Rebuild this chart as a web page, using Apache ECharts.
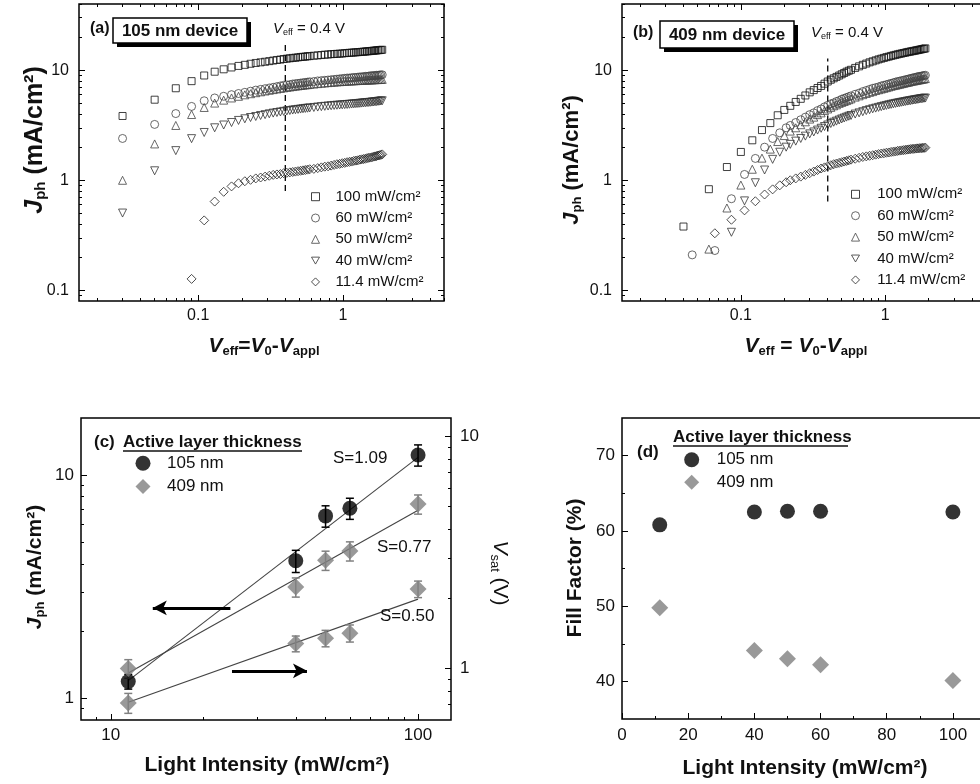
<!DOCTYPE html>
<html>
<head>
<meta charset="utf-8">
<script src="https://cdn.jsdelivr.net/npm/echarts@6/dist/echarts.min.js"></script>
<style>
html, body { margin: 0; padding: 0; background: #fff; }
#main { width: 980px; height: 784px; }
</style>
</head>
<body>
<div id="main"></div>
<script>
// ---- data: panel (a) 105 nm device, Jph vs Veff ----
const seriesNames = ['100 mW/cm²', '60 mW/cm²', '50 mW/cm²', '40 mW/cm²', '11.4 mW/cm²'];
const xA = [0.03,0.05,0.07,0.09,0.11,0.13,0.15,0.17,0.19,0.21,0.23,0.25,0.27,0.29,0.31,0.33,0.35,0.37,0.39,0.41,0.43,0.45,0.47,0.49,0.51,0.53,0.55,0.57,0.59,
  0.63,0.67,0.71,0.75,0.79,0.83,0.87,0.91,0.95,0.99,1.03,1.07,1.11,1.15,1.19,1.23,1.27,1.31,1.35,1.39,1.43,1.47,1.51,1.55,1.59,1.63,1.67,1.71,1.75,1.79,1.83,1.87];
const yA100 = [3.84,5.4,6.86,7.96,8.96,9.7,10.2,10.6,10.95,11.2,11.45,11.65,11.8,11.95,12.1,12.25,12.4,12.5,12.65,12.75,12.85,12.95,13.0,13.1,13.2,13.25,13.3,13.4,13.45,
  13.55,13.65,13.75,13.85,13.9,14.0,14.05,14.1,14.15,14.2,14.3,14.35,14.4,14.45,14.5,14.55,14.6,14.65,14.7,14.75,14.8,14.85,14.9,14.95,15.0,15.05,15.1,15.15,15.2,15.25,15.3,15.35];
const yA60 = [2.40,3.22,4.04,4.69,5.28,5.6,5.8,6.0,6.15,6.3,6.45,6.6,6.7,6.8,6.9,7.0,7.1,7.2,7.3,7.35,7.4,7.5,7.55,7.6,7.65,7.7,7.75,7.8,7.85,
  7.9,8.0,8.05,8.1,8.15,8.2,8.25,8.3,8.35,8.4,8.45,8.5,8.5,8.55,8.6,8.6,8.65,8.7,8.7,8.75,8.8,8.8,8.85,8.9,8.9,8.95,8.95,9.0,9.0,9.05,9.05,9.1];
const yA50 = [1.0,2.14,3.15,3.96,4.59,5.03,5.35,5.6,5.8,5.98,6.12,6.25,6.37,6.48,6.58,6.67,6.76,6.84,6.92,6.99,7.05,7.11,7.17,7.22,7.27,7.32,7.36,7.4,7.44,
  7.5,7.56,7.62,7.67,7.72,7.76,7.8,7.84,7.87,7.9,7.93,7.96,7.98,8.0,8.02,8.04,8.06,8.08,8.1,8.11,8.13,8.14,8.16,8.17,8.18,8.2,8.21,8.22,8.23,8.24,8.25,8.26];
const yA40 = [0.504,1.22,1.86,2.39,2.72,3.0,3.18,3.35,3.5,3.62,3.72,3.8,3.88,3.95,4.02,4.08,4.13,4.18,4.23,4.27,4.31,4.35,4.38,4.41,4.44,4.47,4.5,4.52,4.55,
  4.59,4.63,4.67,4.7,4.73,4.76,4.79,4.81,4.83,4.85,4.87,4.89,4.91,4.93,4.95,4.97,4.99,5.01,5.03,5.05,5.07,5.09,5.1,5.12,5.14,5.16,5.18,5.2,5.22,5.24,5.26,5.28];
const yA11 = [null,null,null,0.127,0.432,0.641,0.786,0.88,0.94,0.98,1.01,1.04,1.06,1.08,1.1,1.12,1.13,1.14,1.16,1.17,1.18,1.19,1.2,1.21,1.22,1.23,1.24,1.25,1.26,
  1.27,1.29,1.31,1.33,1.34,1.36,1.38,1.4,1.41,1.43,1.44,1.46,1.47,1.48,1.5,1.51,1.52,1.54,1.55,1.56,1.57,1.59,1.6,1.61,1.62,1.64,1.65,1.66,1.68,1.69,1.7,1.72];

// ---- data: panel (b) 409 nm device ----
const xTailB = [0.22,0.24,0.26,0.28,0.30,0.32,0.34,0.36,0.38,0.40,0.42,0.44,0.46,0.48,0.50,0.52,0.54,0.56,0.58,
  0.62,0.66,0.70,0.74,0.78,0.82,0.86,0.90,0.94,0.98,1.02,1.06,1.10,1.14,1.18,1.22,1.26,1.30,1.34,1.38,1.42,1.46,1.50,1.54,1.58,1.62,1.66,1.70,1.74,1.78,1.82,1.86,1.90];
const xB100 = [0.04,0.06,0.08,0.10,0.12,0.14,0.16,0.18,0.20];
const yB100 = [0.38,0.83,1.32,1.81,2.31,2.86,3.31,3.9,4.36];
const yB100tail = [4.75,5.15,5.5,5.9,6.3,6.6,6.9,7.2,7.55,7.9,8.2,8.45,8.7,8.95,9.2,9.45,9.7,9.9,10.1,
  10.5,10.85,11.2,11.5,11.8,12.05,12.3,12.55,12.75,12.95,13.15,13.3,13.5,13.65,13.8,13.95,14.1,14.2,14.35,14.45,14.6,14.7,14.8,14.9,15.0,15.1,15.2,15.3,15.4,15.5,15.6,15.7,15.8];
const xB60 = [0.046,0.066,0.086,0.106,0.126,0.146,0.166,0.186,0.206];
const yB60 = [0.21,0.23,0.68,1.13,1.58,2.0,2.4,2.7,3.0];
const yB60tail = [3.15,3.35,3.55,3.75,3.95,4.1,4.3,4.45,4.65,4.8,4.95,5.05,5.2,5.3,5.45,5.55,5.65,5.75,5.85,
  6.05,6.2,6.4,6.55,6.7,6.85,6.95,7.05,7.2,7.3,7.4,7.5,7.6,7.7,7.8,7.9,7.95,8.05,8.1,8.2,8.25,8.35,8.4,8.5,8.55,8.6,8.7,8.75,8.8,8.85,8.9,8.95,9.0];
const xB50 = [0.06,0.08,0.10,0.12,0.14,0.16,0.18,0.20];
const yB50 = [0.237,0.56,0.905,1.26,1.59,1.92,2.25,2.55];
const yB50tail = [2.8,3.0,3.2,3.4,3.6,3.75,3.95,4.1,4.3,4.45,4.6,4.75,4.85,5.0,5.1,5.2,5.3,5.4,5.5,
  5.7,5.85,6.0,6.15,6.3,6.4,6.55,6.65,6.75,6.85,6.95,7.05,7.15,7.25,7.3,7.4,7.45,7.55,7.6,7.7,7.75,7.8,7.9,7.95,8.0,8.05,8.1,8.15,8.2,8.25,8.3,8.35,8.4];
const xB40 = [0.086,0.106,0.126,0.146,0.166,0.186,0.206];
const yB40 = [0.337,0.65,0.95,1.24,1.55,1.8,2.0];
const yB40tail = [2.12,2.27,2.4,2.52,2.64,2.75,2.86,2.97,3.08,3.18,3.28,3.37,3.45,3.53,3.61,3.68,3.75,3.82,3.88,
  4.0,4.1,4.2,4.3,4.38,4.46,4.53,4.6,4.67,4.73,4.79,4.85,4.9,4.95,5.0,5.04,5.08,5.12,5.16,5.2,5.24,5.27,5.3,5.34,5.37,5.4,5.43,5.46,5.49,5.52,5.54,5.57,5.59];
const xB11 = [0.066,0.086,0.106,0.126,0.146,0.166,0.186,0.206];
const yB11 = [0.33,0.438,0.533,0.645,0.743,0.827,0.9,0.96];
const yB11tail = [1.0,1.04,1.08,1.12,1.16,1.2,1.24,1.28,1.31,1.34,1.37,1.4,1.42,1.44,1.46,1.48,1.5,1.52,1.54,
  1.57,1.6,1.63,1.65,1.67,1.69,1.71,1.73,1.75,1.76,1.78,1.79,1.81,1.82,1.83,1.85,1.86,1.87,1.88,1.89,1.9,1.91,1.92,1.93,1.93,1.94,1.95,1.95,1.96,1.96,1.97,1.97,1.98];

// V_eff = 0.4 V guide lines
const vEff = 0.4;
const dashA = [0.8, 17.5];
const dashB = [0.64, 12.8];

// ---- data: panel (c) Jph / Vsat vs light intensity ----
const intensity = [11.4, 40, 50, 60, 100];
const jph105 = [1.19, 4.13, 6.56, 7.1, 12.3];
const err105 = [0.09, 0.47, 0.72, 0.77, 1.34];
const jph409 = [1.36, 3.15, 4.15, 4.57, 7.41];
const err409 = [0.13, 0.31, 0.41, 0.45, 0.73];
const vsat409 = [0.711, 1.28, 1.35, 1.42, 2.2];
const errVsat = [0.07, 0.1, 0.11, 0.12, 0.18];
const fitX = [11.4, 100];
const fit109 = [1.2, 12.0];
const fit077 = [1.3, 6.96];
const fit050 = [0.716, 1.99];
const arrowLeftX = [24.5, 13.7], arrowLeftY = 2.54;
const arrowRightX = [24.8, 43.5], arrowRightY = 0.977;

// ---- data: panel (d) fill factor ----
const ff105 = [60.8, 62.5, 62.6, 62.6, 62.5];
const ff409 = [49.8, 44.1, 43.0, 42.2, 40.1];

// ---- tick values / labels ----
const abXMajor = [0.1, 1];
const abXMinor = [0.02,0.03,0.04,0.05,0.06,0.07,0.08,0.09,0.2,0.3,0.4,0.5,0.6,0.7,0.8,0.9,2,3,4,5];
const abYMajor = [0.1, 1, 10];
const abYMinor = [0.09,0.2,0.3,0.4,0.5,0.6,0.7,0.8,0.9,2,3,4,5,6,7,8,9,20,30,40];
const cXMajor = [10, 100];
const cXMinor = [9,20,30,40,50,60,70,80,90];
const cYMajor = [1, 10];
const cYMinor = [0.9,2,3,4,5,6,7,8,9];
const cVMinor = [0.7,0.8,0.9,2,3,4,5,6,7,8,9];
const dXMajor = [0,20,40,60,80,100];
const dXMinor = [10,30,50,70,90];
const dYMajor = [40,50,60,70];
const dYMinor = [45,55,65];

const FF = '"Liberation Sans", Arial, Helvetica, sans-serif';
const DOWN_TRIANGLE = 'path://M0,0L10,0L5,8.66Z';
const chart = echarts.init(document.getElementById('main'), null, { renderer: 'canvas', width: 980, height: 784 });

function pairs(xs, ys) {
  const out = [];
  xs.forEach((x, i) => { if (ys[i] != null) out.push([x, ys[i]]); });
  return out;
}

const xAxes = [], yAxes = [];
function addAxis(list, o) {
  list.push({
    type: o.log ? 'log' : 'value', logBase: 10, gridIndex: o.grid, position: o.pos,
    min: o.min, max: o.max,
    axisLine: { show: false, onZero: false },
    splitLine: { show: false },
    axisPointer: { show: false },
    axisTick: { show: true, inside: true, length: o.len, customValues: o.ticks, lineStyle: { color: '#000', width: 1 } },
    axisLabel: o.labels ? {
      show: true, customValues: o.labels, margin: o.margin, fontSize: o.fs || 16, fontFamily: FF, color: '#111',
      formatter: v => String(+(+v).toPrecision(6))
    } : { show: false }
  });
  return list.length - 1;
}
function fourAxes(grid, xr, yr, log, xMaj, xMin, yMaj, yMin, fs) {
  const xi = addAxis(xAxes, { log, grid, pos: 'bottom', min: xr[0], max: xr[1], ticks: xMaj, len: 6, labels: xMaj, margin: 7, fs });
  addAxis(xAxes, { log, grid, pos: 'bottom', min: xr[0], max: xr[1], ticks: xMin, len: 3 });
  addAxis(xAxes, { log, grid, pos: 'top', min: xr[0], max: xr[1], ticks: xMaj, len: 6 });
  addAxis(xAxes, { log, grid, pos: 'top', min: xr[0], max: xr[1], ticks: xMin, len: 3 });
  const yi = addAxis(yAxes, { log, grid, pos: 'left', min: yr[0], max: yr[1], ticks: yMaj, len: 6, labels: yMaj, margin: 10, fs });
  addAxis(yAxes, { log, grid, pos: 'left', min: yr[0], max: yr[1], ticks: yMin, len: 3 });
  addAxis(yAxes, { log, grid, pos: 'right', min: yr[0], max: yr[1], ticks: yMaj, len: 6 });
  addAxis(yAxes, { log, grid, pos: 'right', min: yr[0], max: yr[1], ticks: yMin, len: 3 });
  return [xi, yi];
}

const [aX, aY] = fourAxes(0, [0.015, 5], [0.08, 40], true, abXMajor, abXMinor, abYMajor, abYMinor, 16);
const [bX, bY] = fourAxes(1, [0.015, 5], [0.08, 40], true, abXMajor, abXMinor, abYMajor, abYMinor, 16);

// panel (c)
const cX = addAxis(xAxes, { log: true, grid: 2, pos: 'bottom', min: 8, max: 128, ticks: cXMajor, len: 6, labels: cXMajor, margin: 7, fs: 17 });
addAxis(xAxes, { log: true, grid: 2, pos: 'bottom', min: 8, max: 128, ticks: cXMinor, len: 3 });
const cY = addAxis(yAxes, { log: true, grid: 2, pos: 'left', min: 0.8, max: 18, ticks: cYMajor, len: 6, labels: cYMajor, margin: 7, fs: 17 });
addAxis(yAxes, { log: true, grid: 2, pos: 'left', min: 0.8, max: 18, ticks: cYMinor, len: 3 });
const cV = addAxis(yAxes, { log: true, grid: 2, pos: 'right', min: 0.6, max: 12, ticks: cYMajor, len: 6, labels: cYMajor, margin: 9, fs: 17 });
addAxis(yAxes, { log: true, grid: 2, pos: 'right', min: 0.6, max: 12, ticks: cVMinor, len: 3 });

// panel (d)
const dX = addAxis(xAxes, { grid: 3, pos: 'bottom', min: 0, max: 110, ticks: dXMajor, len: 6, labels: dXMajor, margin: 8, fs: 17 });
addAxis(xAxes, { grid: 3, pos: 'bottom', min: 0, max: 110, ticks: dXMinor, len: 3 });
const dY = addAxis(yAxes, { grid: 3, pos: 'left', min: 35, max: 75, ticks: dYMajor, len: 6, labels: dYMajor, margin: 7, fs: 17 });
addAxis(yAxes, { grid: 3, pos: 'left', min: 35, max: 75, ticks: dYMinor, len: 3 });

const markerStyles = [
  { symbol: 'rect', size: 7, rot: 0, color: '#111' },
  { symbol: 'circle', size: 8, rot: 0, color: '#444' },
  { symbol: 'triangle', size: 8, rot: 0, color: '#444' },
  { symbol: 'triangle', size: 8, rot: 180, color: '#333' },
  { symbol: 'diamond', size: 9, rot: 0, color: '#222' }
];
const dataA = [yA100, yA60, yA50, yA40, yA11].map(ys => pairs(xA, ys));
const dataB = [
  pairs(xB100.concat(xTailB), yB100.concat(yB100tail)),
  pairs(xB60.concat(xTailB), yB60.concat(yB60tail)),
  pairs(xB50.concat(xTailB), yB50.concat(yB50tail)),
  pairs(xB40.concat(xTailB), yB40.concat(yB40tail)),
  pairs(xB11.concat(xTailB), yB11.concat(yB11tail))
];

const series = [];
function hollowSeries(data, xi, yi) {
  data.forEach((d, i) => {
    const m = markerStyles[i];
    series.push({
      type: 'scatter', name: seriesNames[i], xAxisIndex: xi, yAxisIndex: yi,
      symbol: m.symbol, symbolSize: m.size, symbolRotate: m.rot,
      itemStyle: { color: 'rgba(0,0,0,0)', borderColor: m.color, borderWidth: 1 },
      data: d, z: 3, silent: true
    });
  });
}
hollowSeries(dataA, aX, aY);
hollowSeries(dataB, bX, bY);

function dashSeries(xi, yi, ys) {
  series.push({
    type: 'line', xAxisIndex: xi, yAxisIndex: yi, symbol: 'none', silent: true, z: 2,
    lineStyle: { color: '#000', width: 1.3, type: [6, 4] },
    data: [[vEff, ys[0]], [vEff, ys[1]]]
  });
}
dashSeries(aX, aY, dashA);
dashSeries(bX, bY, dashB);

// panel (c) fit lines + arrows
function fitSeries(yi, ys, arrow) {
  const s = {
    type: 'line', xAxisIndex: cX, yAxisIndex: yi, symbol: 'none', silent: true, z: 2,
    lineStyle: { color: '#444', width: 1.1 },
    data: pairs(fitX, ys)
  };
  if (arrow) {
    s.markLine = {
      silent: true, symbol: ['none', 'arrow'], symbolSize: [11, 14],
      label: { show: false }, lineStyle: { color: '#000', width: 3, type: 'solid' },
      data: [[{ coord: [arrow[0][0], arrow[1]] }, { coord: [arrow[0][1], arrow[1]] }]]
    };
  }
  series.push(s);
}
fitSeries(cY, fit109, [arrowLeftX, arrowLeftY]);
fitSeries(cY, fit077);
fitSeries(cV, fit050, [arrowRightX, arrowRightY]);

function errSeries(yi, ys, es, color) {
  series.push({
    type: 'custom', xAxisIndex: cX, yAxisIndex: yi, silent: true, z: 3,
    encode: { x: 0, y: [1, 2] },
    data: intensity.map((x, i) => [x, ys[i] - es[i], ys[i] + es[i]]),
    renderItem: (params, api) => {
      const a = api.coord([api.value(0), api.value(1)]);
      const b = api.coord([api.value(0), api.value(2)]);
      const st = { stroke: color, lineWidth: 1.5 };
      return {
        type: 'group', children: [
          { type: 'line', shape: { x1: a[0], y1: a[1], x2: b[0], y2: b[1] }, style: st },
          { type: 'line', shape: { x1: a[0] - 4, y1: a[1], x2: a[0] + 4, y2: a[1] }, style: st },
          { type: 'line', shape: { x1: b[0] - 4, y1: b[1], x2: b[0] + 4, y2: b[1] }, style: st }
        ]
      };
    }
  });
}
errSeries(cY, jph105, err105, '#000');
errSeries(cY, jph409, err409, '#808080');
errSeries(cV, vsat409, errVsat, '#808080');

series.push({ type: 'scatter', name: '105 nm', xAxisIndex: cX, yAxisIndex: cY, symbol: 'circle', symbolSize: 15,
  itemStyle: { color: '#000' }, data: pairs(intensity, jph105), z: 4, silent: true });
series.push({ type: 'scatter', name: '409 nm', xAxisIndex: cX, yAxisIndex: cY, symbol: 'diamond', symbolSize: 17,
  itemStyle: { color: '#808080' }, data: pairs(intensity, jph409), z: 4, silent: true });
series.push({ type: 'scatter', name: '409 nm', xAxisIndex: cX, yAxisIndex: cV, symbol: 'diamond', symbolSize: 17,
  itemStyle: { color: '#808080' }, data: pairs(intensity, vsat409), z: 4, silent: true });

// panel (d)
series.push({ type: 'scatter', name: '105 nm', xAxisIndex: dX, yAxisIndex: dY, symbol: 'circle', symbolSize: 15,
  itemStyle: { color: '#000' }, data: pairs(intensity, ff105), z: 4, silent: true });
series.push({ type: 'scatter', name: '409 nm', xAxisIndex: dX, yAxisIndex: dY, symbol: 'diamond', symbolSize: 17,
  itemStyle: { color: '#808080' }, data: pairs(intensity, ff409), z: 4, silent: true });

// ---- text helpers ----
function rs(size, weight, style, extra) {
  return Object.assign({ fontSize: size, fontWeight: weight || 'normal', fontStyle: style || 'normal', fontFamily: FF }, extra || {});
}
function txt(x, y, text, size, weight, opts) {
  opts = opts || {};
  return {
    type: 'text', x, y, rotation: opts.rot || 0, silent: true, z: 10,
    style: {
      text, fill: '#111', fontSize: size, fontWeight: weight || 'normal', fontFamily: FF,
      align: opts.align || 'left', verticalAlign: 'middle', rich: opts.rich
    }
  };
}
function mathRich(size, sub) {
  return {
    i: rs(size, 'bold', 'italic', { lineHeight: size + 2 }),
    n: rs(size, 'bold', 'normal', { lineHeight: size + 2 }),
    r: rs(size, 'normal', 'normal', { lineHeight: size + 2 }),
    ri: rs(size, 'normal', 'italic', { lineHeight: size + 2 }),
    s: rs(sub, 'bold', 'normal', { verticalAlign: 'bottom', lineHeight: Math.round(sub * 0.6) }),
    sr: rs(sub, 'normal', 'normal', { verticalAlign: 'bottom', lineHeight: Math.round(sub * 0.6) })
  };
}
function labelBox(x, y, w, h, label) {
  return [
    { type: 'rect', silent: true, z: 9, shape: { x: x + 4, y: y + 4, width: w, height: h }, style: { fill: '#000' } },
    { type: 'rect', silent: true, z: 9, shape: { x, y, width: w, height: h }, style: { fill: '#fff', stroke: '#000', lineWidth: 1.5 } },
    txt(x + w / 2, y + h / 2 + 0.5, label, 17, 'bold', { align: 'center' })
  ];
}
function underline(x1, x2, y) {
  return { type: 'line', silent: true, z: 10, shape: { x1, y1: y, x2, y2: y }, style: { stroke: '#111', lineWidth: 1.3 } };
}

const graphics = [].concat(
  // panel (a)
  [txt(90, 29, '(a)', 16, 'bold')],
  labelBox(113, 18, 134, 25, '105 nm device'),
  [txt(273, 29, '{ri|V}{sr|eff}{r| = 0.4 V}', 15, 'normal', { rich: mathRich(15, 9) }),
   txt(35, 140, '{i|J}{s|ph}{n| (mA/cm²)}', 25, 'bold', { rot: Math.PI / 2, align: 'center', rich: mathRich(25, 15) }),
   txt(264, 346, '{i|V}{s|eff}{n|=}{i|V}{s|0}{n|-}{i|V}{s|appl}', 21, 'bold', { align: 'center', rich: mathRich(21, 13) })],
  // panel (b)
  [txt(633, 33, '(b)', 16, 'bold')],
  labelBox(660, 21, 134, 27, '409 nm device'),
  [txt(811, 33, '{ri|V}{sr|eff}{r| = 0.4 V}', 15, 'normal', { rich: mathRich(15, 9) }),
   txt(572, 160, '{i|J}{s|ph}{n| (mA/cm²)}', 22, 'bold', { rot: Math.PI / 2, align: 'center', rich: mathRich(22, 13) }),
   txt(806, 346, '{i|V}{s|eff}{n| = }{i|V}{s|0}{n|-}{i|V}{s|appl}', 21, 'bold', { align: 'center', rich: mathRich(21, 13) })],
  // panel (c)
  [txt(94, 442, '(c)', 17, 'bold'),
   txt(123, 442, 'Active layer thickness', 17, 'bold'),
   underline(123, 302, 451),
   txt(333, 458, 'S=1.09', 17),
   txt(377, 547, 'S=0.77', 17),
   txt(380, 616, 'S=0.50', 17),
   txt(35, 567, '{i|J}{s|ph}{n| (mA/cm²)}', 21, 'bold', { rot: Math.PI / 2, align: 'center', rich: mathRich(21, 13) }),
   txt(500, 573, '{ri|V}{sr|sat}{r| (V)}', 21, 'normal', { rot: -Math.PI / 2, align: 'center', rich: mathRich(21, 13) }),
   txt(267, 765, 'Light Intensity (mW/cm²)', 21, 'bold', { align: 'center' })],
  // panel (d)
  [txt(637, 452, '(d)', 17, 'bold'),
   txt(673, 437, 'Active layer thickness', 17, 'bold'),
   underline(673, 848, 446),
   txt(575, 568, 'Fill Factor (%)', 21, 'bold', { rot: Math.PI / 2, align: 'center' }),
   txt(805, 768, 'Light Intensity (mW/cm²)', 21, 'bold', { align: 'center' })]
);

// square icon boxes (no stretching); text pushed right with padding
function legendOf(cx, cy, names, icon, textLeft, rowStep, fs) {
  const rowH = 16;
  return {
    left: cx - icon / 2, top: cy - rowH / 2, orient: 'vertical', padding: 0,
    itemWidth: icon, itemHeight: icon, itemGap: rowStep - rowH,
    data: names.map((n, i) => (names === seriesNames && markerStyles[i].rot) ? { name: n, icon: DOWN_TRIANGLE } : n),
    selectedMode: false, itemStyle: { borderWidth: 1 },
    textStyle: { fontSize: fs, fontFamily: FF, color: '#111', lineHeight: rowH,
      padding: [0, 0, 0, textLeft - (cx + icon / 2 + 5)] }
  };
}

const gridBase = { show: true, borderColor: '#000', borderWidth: 1.5, containLabel: false, outerBoundsMode: 'none' };
chart.setOption({
  animation: false,
  backgroundColor: '#fff',
  grid: [
    Object.assign({ left: 79, top: 4, width: 365, height: 297 }, gridBase),
    Object.assign({ left: 622, top: 4, width: 364, height: 297 }, gridBase),
    Object.assign({ left: 81, top: 418, width: 370, height: 302 }, gridBase),
    Object.assign({ left: 622, top: 418, width: 364, height: 301 }, gridBase)
  ],
  xAxis: xAxes,
  yAxis: yAxes,
  legend: [
    legendOf(315, 196.7, seriesNames, 8, 335, 21.3, 15),
    legendOf(855, 194.3, seriesNames, 8, 876.7, 21.4, 15),
    legendOf(143, 462.7, ['105 nm', '409 nm'], 15, 167, 22.3, 17),
    legendOf(691.7, 459.3, ['105 nm', '409 nm'], 15, 716.7, 21.4, 17)
  ],
  graphic: graphics,
  series
});
</script>
</body>
</html>
